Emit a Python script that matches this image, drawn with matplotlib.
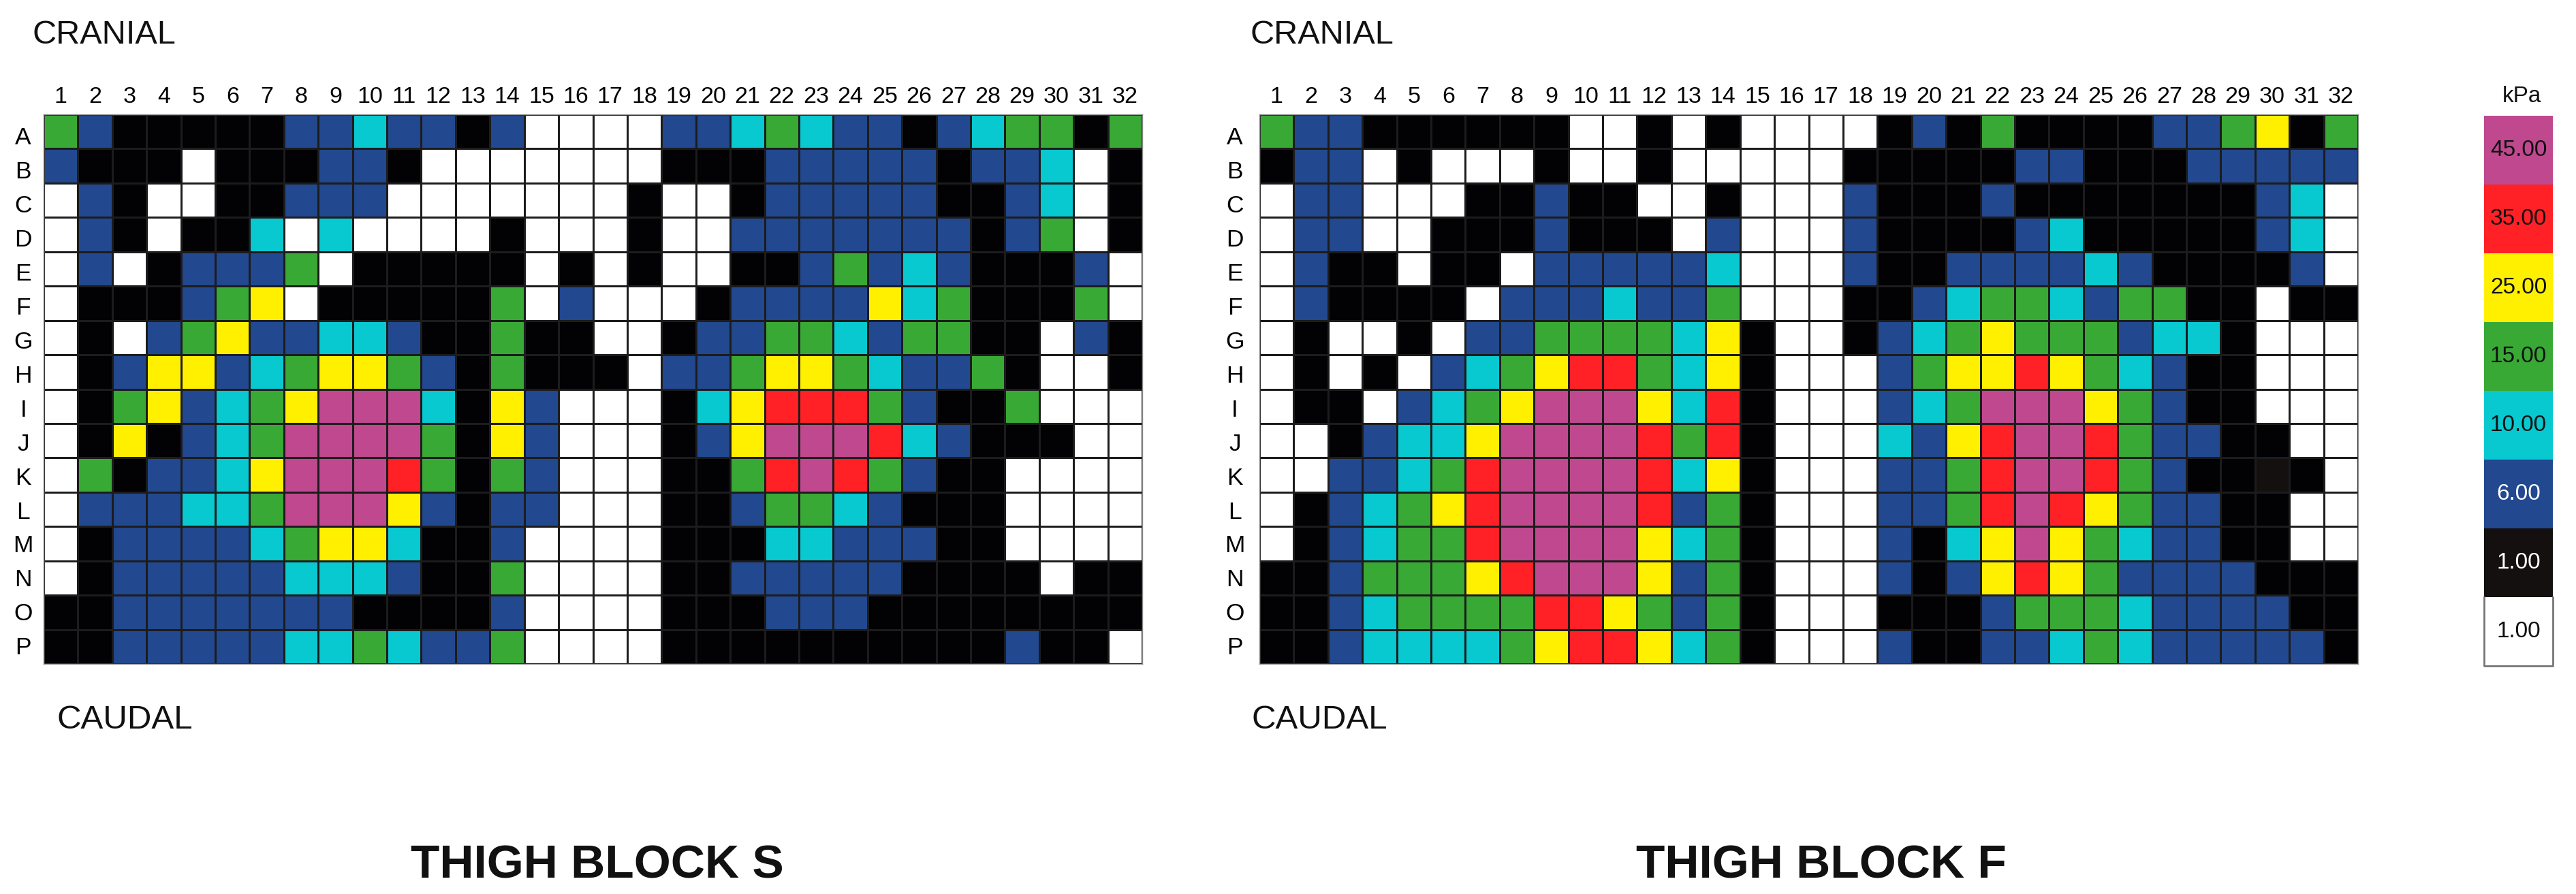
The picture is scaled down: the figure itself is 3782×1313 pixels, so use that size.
import numpy as np
import matplotlib
matplotlib.use("Agg")
import matplotlib.pyplot as plt
from matplotlib.colors import ListedColormap, BoundaryNorm

plt.rcParams['font.family'] = ['Liberation Sans', 'DejaVu Sans']

W_PX, H_PX = 3782, 1313
DPI = 100

columns = [str(i) for i in range(1, 33)]
rows = list("ABCDEFGHIJKLMNOP")

# Cell levels: W=white, K=black, B=blue, C=cyan, G=green, Y=yellow, R=red, M=magenta, D=legend black
block_s = [
    "GBKKKKKBBCBBKBWW" "WWBBCGCBBKBCGGKG",
    "BKKKWKKKBBKWWWWW" "WWKKKBBBBBKBBCWK",
    "WBKWWKKBBBWWWWWW" "WKWWKBBBBBKKBCWK",
    "WBKWKKCWCWWWWKWW" "WKWWBBBBBBBKBGWK",
    "WBWKBBBGWKKKKKWK" "WKWWKKBGBCBKKKBW",
    "WKKKBGYWKKKKKGWB" "WWWKBBBBYCGKKKGW",
    "WKWBGYBBCCBKKGKK" "WWKBBGGCBGGKKWBK",
    "WKBYYBCGYYGBKGKK" "KWBBGYYGCBBGKWWK",
    "WKGYBCGYMMMCKYBW" "WWKCYRRRGBKKGWWW",
    "WKYKBCGMMMMGKYBW" "WWKBYMMMRCBKKKWW",
    "WGKBBCYMMMRGKGBW" "WWKKGRMRGBKKWWWW",
    "WBBBCCGMMMYBKBBW" "WWKKBGGCBKKKWWWW",
    "WKBBBBCGYYCKKBWW" "WWKKKCCBBBKKWWWW",
    "WKBBBBBCCCBKKGWW" "WWKKBBBBBKKKKWKK",
    "KKBBBBBBBKKKKBWW" "WWKKKBBBKKKKKKKK",
    "KKBBBBBCCGCBBGWW" "WWKKKKKKKKKKBKKW",
]
block_f = [
    "GBBKKKKKKWWKWKWW" "WWKBKGKKKKBBGYKG",
    "KBBWKWWWKWWKWWWW" "WKKKKKBBKKKBBBBB",
    "WBBWWWKKBKKWWKWW" "WBKKKBKKKKKKKBCW",
    "WBBWWKKKBKKKWBWW" "WBKKKKBCKKKKKBCW",
    "WBKKWKKWBBBBBCWW" "WBKKBBBBCBKKKKBW",
    "WBKKKKWBBBCBBGWW" "WKKBCGGCBGGKKWKK",
    "WKWWKWBBGGGGCYKW" "WKBCGYGGGBCCKWWW",
    "WKWKWBCGYRRGCYKW" "WWBGYYRYGCBKKWWW",
    "WKKWBCGYMMMYCRKW" "WWBCGMMMYGBKKWWW",
    "WWKBCCYMMMMRGRKW" "WWCBYRMMRGBBKKWW",
    "WWBBCGRMMMMRCYKW" "WWBBGRMMRGBKKDKW",
    "WKBCGYRMMMMRBGKW" "WWBBGRMRYGBBKKWW",
    "WKBCGGRMMMMYCGKW" "WWBKCYMYGCBBKKWW",
    "KKBGGGYRMMMYBGKW" "WWBKBYRYGBBBBKKK",
    "KKBCGGGGRRYGBGKW" "WWKKKBGGGCBBBBKK",
    "KKBCCCCGYRRYCGKW" "WWBKKBBCGCBBBBBK",
]

legend_levels = list("MRYGCBDW")
legend_labels = ["45.00", "35.00", "25.00", "15.00", "10.00", "6.00", "1.00", "1.00"]
legend_text_colors = ["#111111"] * 5 + ["white", "white", "#111111"]
level_order = "WKDBCGYRM"
level_colors = ["#FFFFFF", "#020205", "#141010", "#22488F", "#08C8D0",
                "#39A935", "#FFF000", "#FF2126", "#C0488F"]
cmap = ListedColormap(level_colors)
norm = BoundaryNorm(np.arange(len(level_order) + 1) - 0.5, cmap.N)


def encode(strings):
    return np.array([[level_order.index(c) for c in s] for s in strings])


def px_axes(fig, x0, x1, y0, y1):
    return fig.add_axes([x0 / W_PX, 1 - y1 / H_PX, (x1 - x0) / W_PX, (y1 - y0) / H_PX])


def ptxt(fig, x, y, s, **kw):
    fig.text(x / W_PX, 1 - (y + 5) / H_PX, s, va='center', color='#111111', **kw)


fig = plt.figure(figsize=(W_PX / DPI, H_PX / DPI), dpi=DPI, facecolor='white')


def draw_block(ax, data, ypad):
    ax.pcolormesh(encode(data), cmap=cmap, norm=norm, edgecolors='#1c1c1c', linewidth=0.75)
    ax.set_xlim(0, 32)
    ax.set_ylim(16, 0)
    ax.xaxis.tick_top()
    ax.set_xticks(np.arange(32) + 0.5, columns, fontsize=24.5)
    ax.set_yticks(0.62 + np.arange(16) * 0.99, rows, fontsize=25.5, ha='center')
    ax.tick_params(axis='both', length=0)
    ax.tick_params(axis='x', pad=7)
    ax.tick_params(axis='y', pad=ypad)
    for sp in ax.spines.values():
        sp.set_color('#8a8a8a')
        sp.set_linewidth(1.0)


draw_block(px_axes(fig, 64, 1677, 168, 975), block_s, 21.5)
draw_block(px_axes(fig, 1849, 3462, 168, 975), block_f, 26)

# Legend
lax = px_axes(fig, 3647, 3748, 170, 978)
lax.pcolormesh(encode(legend_levels).reshape(-1, 1), cmap=cmap, norm=norm)
lax.set_xlim(0, 1)
lax.set_ylim(len(legend_levels), 0)
lax.set_xticks([])
lax.set_yticks([])
for sp in lax.spines.values():
    sp.set_visible(False)
for i, (lab, col) in enumerate(zip(legend_labels, legend_text_colors)):
    lax.text(0.5, i + 0.5, lab, ha='center', va='center', color=col, fontsize=24)
lax.plot([0, 0, 1, 1], [7, 8, 8, 7], color='#777777', lw=2, clip_on=False)

ptxt(fig, 3702, 136, "kPa", fontsize=24, ha='center')
ptxt(fig, 48, 46, "CRANIAL", fontsize=35, ha='left')
ptxt(fig, 1835, 46, "CRANIAL", fontsize=35, ha='left')
ptxt(fig, 83, 1052, "CAUDAL", fontsize=35.5, ha='left')
ptxt(fig, 1837, 1052, "CAUDAL", fontsize=35.5, ha='left')
ptxt(fig, 877, 1266, "THIGH BLOCK S", fontsize=50, ha='center', fontweight='bold')
ptxt(fig, 2674, 1266, "THIGH BLOCK F", fontsize=50, ha='center', fontweight='bold')

fig.savefig("out.png", dpi=DPI, facecolor='white')
